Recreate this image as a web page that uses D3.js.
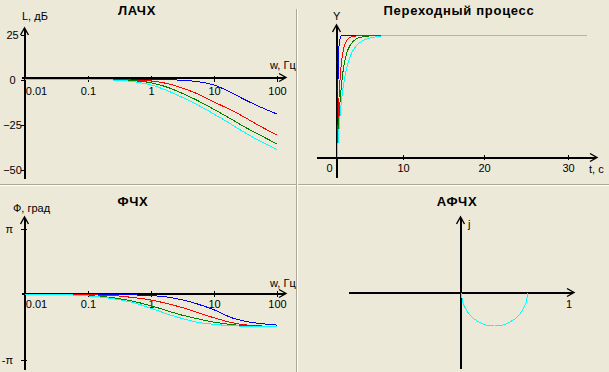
<!DOCTYPE html>
<html>
<head>
<meta charset="utf-8">
<script src="https://cdn.jsdelivr.net/npm/d3@7"></script>
<style>
  body { margin: 0; background: #ece9d8; }
  svg { display: block; font-family: "Liberation Sans", Arial, sans-serif; }
  .title { font-size: 13px; font-weight: bold; letter-spacing: 0.7px; text-anchor: middle; }
  .lbl { font-size: 11px; }
  .tick text { font-size: 11px; font-family: "Liberation Sans", Arial, sans-serif; fill: #000; }
  .tick line { stroke: #000; shape-rendering: crispEdges; }
  .domain { display: none; }
  .curve { fill: none; stroke-width: 1; shape-rendering: crispEdges; }
  .axisline { stroke: #000; stroke-width: 2; shape-rendering: crispEdges; }
  .arrow { fill: none; stroke: #000; stroke-width: 1.4; }
</style>
</head>
<body>
<svg id="chart" width="609" height="372"></svg>
<script>
const seriesColors = ["#0000ff", "#ff0000", "#008000", "#00ffff"];

// frequency grid, Гц
const freqs = [0.01, 0.05, 0.1, 0.2, 0.3, 0.5, 1, 2, 3, 5, 10, 20, 30, 50, 100];
const freqTicks = [0.01, 0.1, 1, 10, 100];

// ЛАЧХ, дБ
const magBlue  = [0, 0, 0, 0, 0, 0, 0, -0.1, -0.4, -1.0, -3.1, -7.7, -11.0, -14.7, -19.2];
const magRed   = [0, 0, 0, 0, -0.1, -0.3, -0.8, -2.6, -4.5, -7.4, -12.5, -17.5, -20.8, -25.3, -30.8];
const magGreen = [0, 0, 0, -0.1, -0.2, -0.6, -1.8, -4.8, -7.4, -11.0, -16.6, -22.6, -26.2, -30.3, -35.8];
const magCyan  = [0, 0, 0, -0.2, -0.4, -1.1, -3.0, -6.8, -9.6, -13.4, -19.2, -25.5, -29.3, -33.6, -38.8];
const magTicks = [-50, -25, 0, 25];

// ФЧХ, град
const phBlue  = [0, 0, 0, 0, 0, -1, -3, -8, -14, -24, -42, -65, -73, -79, -84];
const phRed   = [0, 0, -1, -2, -4, -8, -15, -27, -35, -47, -64, -78, -83, -86, -88];
const phGreen = [0, -1, -3, -7, -11, -18, -31, -47, -56, -65, -76, -83, -86, -87, -88];
const phCyan  = [0, -1, -4, -9, -14, -21, -38, -56, -65, -75, -82, -86, -87, -88, -88];
const phTicks = [-180, 180];

// переходный процесс
const times     = [0, 0.25, 0.5, 0.75, 1, 1.5, 2, 3, 4, 5, 6, 7, 32.3];
const stepBlue  = [0, 0.87, 0.98, 1, 1, 1, 1, 1, 1, 1, 1, 1, 1];
const stepRed   = [0, 0.43, 0.67, 0.81, 0.89, 0.96, 0.985, 0.997, 1, 1, 1, 1, 1];
const stepGreen = [0, 0.28, 0.49, 0.63, 0.74, 0.86, 0.92, 0.975, 0.99, 0.997, 1, 1, 1];
const stepCyan  = [0, 0.2, 0.37, 0.5, 0.6, 0.74, 0.83, 0.92, 0.96, 0.98, 0.99, 0.997, 1];
const timeTicks = [0, 10, 20, 30];

// АФЧХ (all four curves coincide)
const nyqRe = [1, 0.98, 0.93, 0.85, 0.75, 0.65, 0.5, 0.35, 0.25, 0.15, 0.07, 0.02, 0];
const nyqIm = [0, -0.14, -0.25, -0.36, -0.43, -0.48, -0.5, -0.48, -0.43, -0.36, -0.25, -0.14, 0];

const svg = d3.select("#chart");

// panel separators
svg.append("rect").attr("x", 0).attr("y", 184).attr("width", 609).attr("height", 1).attr("fill", "#aca899");
svg.append("rect").attr("x", 0).attr("y", 185).attr("width", 609).attr("height", 1).attr("fill", "#ffffff");
svg.append("rect").attr("x", 296).attr("y", 9).attr("width", 1).attr("height", 363).attr("fill", "#aca899");
svg.append("rect").attr("x", 297).attr("y", 9).attr("width", 1).attr("height", 363).attr("fill", "#ffffff");

function vAxis(x, yTop, yBottom) {
  svg.append("line").attr("class", "axisline")
    .attr("x1", x).attr("x2", x).attr("y1", yTop + 1).attr("y2", yBottom);
  svg.append("polyline").attr("class", "arrow")
    .attr("points", `${x - 4.5},${yTop + 7} ${x - 0.5},${yTop} ${x + 3.5},${yTop + 7}`);
}

function hAxis(xLeft, xRight, y) {
  svg.append("line").attr("class", "axisline")
    .attr("x1", xLeft).attr("x2", xRight - 1).attr("y1", y).attr("y2", y);
  svg.append("polyline").attr("class", "arrow")
    .attr("points", `${xRight - 7},${y - 4.5} ${xRight},${y - 0.5} ${xRight - 7},${y + 3.5}`);
}

function label(txt, x, y, cls) {
  return svg.append("text").attr("class", cls || "lbl").attr("x", x).attr("y", y).text(txt);
}

function drawCurves(series, lineGen) {
  series.forEach((s, i) => {
    svg.append("path")
      .attr("class", "curve")
      .attr("stroke", seriesColors[i])
      .attr("d", lineGen(s));
  });
}

const fmtFreq = d => d >= 1 ? d3.format("d")(d) : String(d);

// ---------- ЛАЧХ ----------
const freqX = d3.scaleLog().domain([0.01, 100]).range([25, 277]);
const magY = d3.scaleLinear().domain([-50, 25]).range([169.5, 34.5]);

vAxis(25, 28, 179);
hAxis(22, 286, 78);

svg.append("g")
  .attr("transform", "translate(0,76)")
  .call(d3.axisBottom(freqX).tickValues(freqTicks).tickFormat(fmtFreq).tickSize(6).tickPadding(5))
  .selectAll(".tick text").filter(d => d === 0.01).attr("dx", 11);

// labels of the dB axis sit centred left of the axis
svg.append("g")
  .attr("transform", "translate(25,0)")
  .call(d3.axisLeft(magY).tickValues(magTicks).tickSize(4))
  .selectAll(".tick text").attr("text-anchor", "middle").attr("x", -12.5);

drawCurves([magBlue, magRed, magGreen, magCyan],
  vals => d3.line().curve(d3.curveMonotoneX)
    .x((d, i) => freqX(freqs[i])).y(d => magY(d))(vals));

label("ЛАЧХ", 137, 15, "title");
label("L, дБ", 22, 20);
label("w, Гц", 270, 69);

// ---------- ФЧХ ----------
const phaseY = d3.scaleLinear().domain([-180, 180]).range([360, 229]);

vAxis(25, 217, 370);
hAxis(22, 286, 294);

svg.append("g")
  .attr("transform", "translate(0,291)")
  .call(d3.axisBottom(freqX).tickValues(freqTicks).tickFormat(fmtFreq).tickSize(6).tickPadding(3))
  .selectAll(".tick text").filter(d => d === 0.01).attr("dx", 11);

svg.append("g")
  .attr("transform", "translate(27,0)")
  .call(d3.axisLeft(phaseY).tickValues(phTicks).tickFormat(d => d > 0 ? "π" : "-π").tickSize(6).tickPadding(8));

drawCurves([phBlue, phRed, phGreen, phCyan],
  vals => d3.line().curve(d3.curveMonotoneX)
    .x((d, i) => freqX(freqs[i])).y(d => phaseY(d))(vals));

label("ФЧХ", 133, 206, "title");
label("Ф, град", 13, 212);
label("w, Гц", 270, 287);

// ---------- Переходный процесс ----------
const stepX = d3.scaleLinear().domain([0, 10, 20, 30]).range([337, 403, 484, 568]);
const stepY = d3.scaleLinear().domain([0, 1]).range([157.5, 35.5]);

vAxis(337, 25, 178);
hAxis(317, 597, 158);

svg.append("g")
  .attr("transform", "translate(0,155)")
  .call(d3.axisBottom(stepX).tickValues(timeTicks).tickSize(5).tickPadding(4))
  .call(g => g.selectAll(".tick").filter(d => d === 0).select("line").remove())
  .selectAll(".tick text").filter(d => d === 0).attr("dx", -8);

drawCurves([stepBlue, stepRed, stepGreen, stepCyan],
  vals => d3.line().curve(d3.curveMonotoneX)
    .x((d, i) => stepX(times[i])).y(d => stepY(d))(vals));

label("Переходный процесс", 459, 15, "title");
label("Y", 333, 20);
label("t, c", 589, 173);

// ---------- АФЧХ ----------
const nyqX = d3.scaleLinear().domain([0, 1]).range([461.5, 527.5]);
const nyqY = d3.scaleLinear().domain([0, -0.5]).range([293, 326]);

hAxis(349, 574, 293);
vAxis(461, 217, 369);

const nyqPts = nyqRe.map((r, i) => [r, nyqIm[i]]);
drawCurves(seriesColors.map(() => nyqPts),
  pts => d3.line().curve(d3.curveCardinal)
    .x(d => nyqX(d[0])).y(d => nyqY(d[1]))(pts));

label("АФЧХ", 457, 206, "title");
label("j", 468, 228);
label("1", 566, 308);
</script>
</body>
</html>
